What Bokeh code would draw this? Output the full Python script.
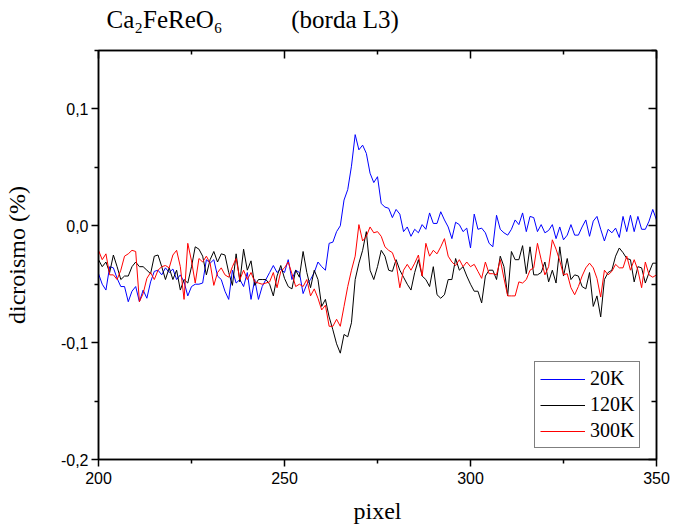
from bokeh.plotting import figure
from bokeh.models import (LinearAxis, FixedTicker, CustomJSTickFormatter,
                          Legend, LegendItem, Range1d)
from bokeh.embed import file_html
from bokeh.resources import INLINE

# ---- data -------------------------------------------------------------
pixel = list(range(200, 351))

k20 = [
    -0.041, -0.050, -0.055, -0.035, -0.036, -0.045, -0.052, -0.052, -0.065, -0.056,
    -0.052, -0.065, -0.055, -0.062, -0.048, -0.039, -0.038, -0.042, -0.036, -0.040,
    -0.037, -0.046, -0.042, -0.048, -0.060, -0.052, -0.050, -0.050, -0.049, -0.029,
    -0.032,
    -0.029, -0.043, -0.046, -0.056, -0.063, -0.038, -0.049, -0.046, -0.052, -0.040,
    -0.063, -0.046, -0.063, -0.052, -0.046, -0.040, -0.034, -0.040, -0.037, -0.040,
    -0.029, -0.046, -0.038, -0.040, -0.058, -0.050, -0.046, -0.040, -0.031, -0.035,
    -0.038, -0.015, -0.014, -0.005, 0.000, 0.022, 0.031, 0.051, 0.078, 0.065,
    0.069, 0.062, 0.045, 0.037, 0.042, 0.019, 0.016, 0.015, 0.007, 0.014,
    0.010, -0.005, -0.001, -0.009, -0.003, -0.006, 0.001, -0.003, 0.011, 0.002,
    0.002, 0.012, 0.005, -0.001, -0.011, 0.003, 0.001, -0.005, -0.002, -0.019,
    0.010, -0.003, -0.002, -0.006, -0.015, -0.018, 0.009, -0.003, -0.006, -0.008,
    -0.003, 0.005, 0.001, 0.011, -0.005, 0.008, 0.007, -0.005, 0.001, -0.006,
    -0.004, 0.001, -0.011, -0.001, -0.012, -0.008, 0.001, -0.008, -0.008, -0.001,
    0.005, -0.009, 0.004, 0.008, -0.003, -0.013, -0.003, -0.006, -0.002, -0.010,
    0.008, -0.005, 0.009, -0.005, 0.008, -0.003, -0.003, 0.004, 0.014, 0.005,
]

k120 = [
    -0.029, -0.035, -0.031, -0.040, -0.025, -0.035, -0.046, -0.043, -0.043, -0.035,
    -0.031, -0.035, -0.035, -0.038, -0.041, -0.026, -0.025, -0.035, -0.046, -0.036,
    -0.046, -0.038, -0.055, -0.046, -0.049, -0.035, -0.018, -0.020, -0.026, -0.042,
    -0.029,
    -0.022, -0.031, -0.024, -0.025, -0.040, -0.051, -0.024, -0.048, -0.020, -0.038,
    -0.030, -0.051, -0.046, -0.046, -0.046, -0.050, -0.060, -0.043, -0.034, -0.045,
    -0.052, -0.054, -0.038, -0.044, -0.022, -0.040, -0.053, -0.038, -0.046, -0.069,
    -0.063, -0.078, -0.089, -0.101, -0.109, -0.093, -0.095, -0.083, -0.046, -0.032,
    -0.021, -0.005, -0.038, -0.046, -0.035, -0.021, -0.026, -0.038, -0.039, -0.029,
    -0.038, -0.044, -0.050, -0.055, -0.040, -0.029, -0.043, -0.046, -0.052, -0.035,
    -0.059, -0.062, -0.059, -0.046, -0.046, -0.028, -0.038, -0.035, -0.043, -0.050,
    -0.056, -0.056, -0.066, -0.043, -0.038, -0.038, -0.046, -0.026, -0.035, -0.060,
    -0.022, -0.029, -0.029, -0.017, -0.041, -0.018, -0.042, -0.042, -0.040, -0.031,
    -0.048, -0.038, -0.049, -0.018, -0.043, -0.028, -0.046, -0.042, -0.043, -0.052,
    -0.054, -0.040, -0.069, -0.060, -0.078, -0.046, -0.040, -0.038, -0.026, -0.019,
    -0.023, -0.028, -0.029, -0.048, -0.035, -0.036, -0.049, -0.040, -0.032, -0.032,
]

k300 = [
    -0.021, -0.029, -0.024, -0.042, -0.042, -0.046, -0.038, -0.026, -0.024, -0.021,
    -0.022, -0.065, -0.058, -0.045, -0.040, -0.046, -0.038, -0.035, -0.034, -0.036,
    -0.025, -0.021, -0.035, -0.063, -0.015, -0.030, -0.049, -0.028, -0.031, -0.026,
    -0.032,
    -0.051, -0.040, -0.036, -0.042, -0.044, -0.035, -0.028, -0.046, -0.038, -0.046,
    -0.040, -0.048, -0.049, -0.050, -0.049, -0.048, -0.040, -0.053, -0.039, -0.036,
    -0.031, -0.041, -0.052, -0.050, -0.052, -0.046, -0.060, -0.054, -0.062, -0.072,
    -0.068, -0.086, -0.086, -0.080, -0.086, -0.069, -0.052, -0.038, -0.026, 0.001,
    -0.013, -0.009, -0.001, -0.006, -0.005, -0.009, -0.018, -0.021, -0.023, -0.032,
    -0.053, -0.038, -0.033, -0.038, -0.032, -0.025, -0.043, -0.015, -0.026, -0.021,
    -0.024, -0.018, -0.011, -0.026, -0.031, -0.034, -0.029, -0.035, -0.031, -0.035,
    -0.033, -0.039, -0.045, -0.031, -0.041, -0.041, -0.042, -0.029, -0.045, -0.060,
    -0.060, -0.060, -0.048, -0.049, -0.046, -0.038, -0.036, -0.015, -0.029, -0.042,
    -0.035, -0.012, -0.020, -0.030, -0.042, -0.041, -0.053, -0.059, -0.052, -0.043,
    -0.036, -0.032, -0.036, -0.045, -0.061, -0.038, -0.042, -0.039, -0.033, -0.036,
    -0.036, -0.026, -0.038, -0.029, -0.038, -0.053, -0.031, -0.042, -0.044, -0.042,
]

series_labels = ["20K", "120K", "300K"]
x_ticks = [200, 250, 300, 350]
x_minor = [225, 275, 325]
y_ticks = [-0.2, -0.1, 0.0, 0.1]
y_minor = [-0.15, -0.05, 0.05, 0.15]
title_text = "Ca\u2082FeReO\u2086" + "\u00a0" * 11 + "(borda L3)"

# ---- figure -----------------------------------------------------------
SERIF = "Liberation Serif"
SANS = "Liberation Sans"

p = figure(frame_width=558, frame_height=409,
           x_range=Range1d(200, 350), y_range=Range1d(-0.2, 0.15),
           output_backend="svg", toolbar_location=None,
           min_border_left=98, min_border_top=50, min_border_bottom=70,
           min_border_right=16, background_fill_color="white",
           border_fill_color="white")
p.xgrid.visible = False
p.ygrid.visible = False
p.outline_line_color = "black"
p.outline_line_width = 1.5

p.title.text = title_text
p.title.text_font = SERIF
p.title.text_font_size = "25px"
p.title.text_font_style = "normal"
p.title.text_color = "black"
p.title.align = "left"
p.title.offset = 8
p.title.standoff = 4

fmt = CustomJSTickFormatter(code="return tick.toFixed(1).replace('.', ',');")

xa = p.xaxis[0]
xa.ticker = FixedTicker(ticks=x_ticks, minor_ticks=x_minor)
xa.axis_label = "pixel"
ya = p.yaxis[0]
ya.ticker = FixedTicker(ticks=y_ticks, minor_ticks=y_minor)
ya.formatter = fmt
ya.axis_label = "dicroismo (%)"

for ax in (xa, ya):
    ax.axis_line_width = 1.5
    ax.major_tick_line_width = 1.5
    ax.minor_tick_line_width = 1.5
    ax.major_tick_in = 0
    ax.minor_tick_in = 0
    ax.major_tick_out = 7
    ax.minor_tick_out = 4
    ax.major_label_text_font = SANS
    ax.major_label_text_font_size = "16px"
    ax.major_label_text_color = "black"
    ax.axis_label_text_font = SERIF
    ax.axis_label_text_font_size = "24px"
    ax.axis_label_text_font_style = "normal"
    ax.axis_label_text_color = "black"
xa.major_label_standoff = 5
xa.axis_label_standoff = 11
ya.major_label_standoff = 3
ya.axis_label_standoff = 28

top = LinearAxis(ticker=FixedTicker(ticks=x_ticks, minor_ticks=x_minor))
right = LinearAxis(ticker=FixedTicker(ticks=y_ticks, minor_ticks=y_minor))
for ax, mt in ((top, 4), (right, 5)):
    ax.axis_line_width = 1.5
    ax.major_tick_line_width = 1.5
    ax.minor_tick_line_width = 1.5
    ax.major_tick_out = 0
    ax.minor_tick_out = 0
    ax.major_tick_in = 8
    ax.minor_tick_in = mt
    ax.major_label_text_font_size = "1px"
    ax.major_label_text_color = None
    ax.major_label_standoff = 0
# blank spacer label on the top axis lifts the title clear of the frame
top.axis_label = "\u00a0"
top.axis_label_text_font_size = "9px"
top.axis_label_standoff = 3
p.add_layout(top, "above")
p.add_layout(right, "right")

# ---- lines ------------------------------------------------------------
r20 = p.line(pixel, k20, line_color="#0000ff", line_width=1)
r120 = p.line(pixel, k120, line_color="black", line_width=1)
r300 = p.line(pixel, k300, line_color="#ff0000", line_width=1)

legend = Legend(items=[LegendItem(label=series_labels[0], renderers=[r20]),
                       LegendItem(label=series_labels[1], renderers=[r120]),
                       LegendItem(label=series_labels[2], renderers=[r300])],
                location=(436, 11))
legend.label_text_font = SERIF
legend.label_text_font_size = "20px"
legend.label_text_color = "black"
legend.glyph_width = 45
legend.glyph_height = 20
legend.label_height = 20
legend.label_standoff = 5
legend.padding = 5
legend.spacing = 3
legend.margin = 0
legend.border_line_color = "black"
legend.border_line_width = 1
legend.background_fill_color = "white"
legend.background_fill_alpha = 1
p.add_layout(legend)

open("out.html", "w").write(file_html(p, INLINE))
